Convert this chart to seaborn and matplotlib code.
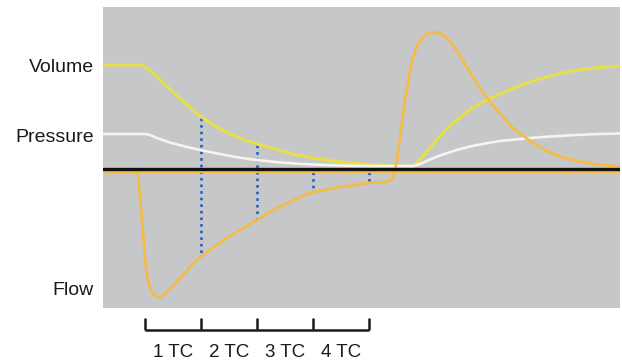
import matplotlib
matplotlib.use('Agg')
import matplotlib.pyplot as plt
import seaborn as sns
import pandas as pd

# time in ms (1 TC = 560 ms), signal in arbitrary units, 0 = baseline
tc_ms = 560

volume_t = [-420, -30, 30, 100, 180, 270, 350, 450, 550, 700, 850, 1000, 1120, 1300, 1500, 1680, 1950,
            2230, 2500, 2680, 2730, 2780, 2850, 2930, 3020, 3100, 3180, 3260, 3350, 3430, 3550, 3700,
            3880, 4050, 4220, 4400, 4550, 4750]
volume_v = [105, 105, 101, 95, 87.5, 79, 71.5, 62.5, 54, 44, 36, 30, 26, 21, 15.5, 12, 8,
            5.5, 4, 3.5, 8, 14, 22, 31.5, 41, 48.5, 55, 61, 66.5, 70.5, 76, 82.5,
            89, 94, 98, 101, 102.5, 104]

pressure_t = [-420, 10, 50, 130, 250, 400, 550, 700, 850, 1000, 1120, 1300, 1500, 1680, 1950, 2230,
              2680, 2750, 2850, 2950, 3100, 3250, 3400, 3550, 3700, 3850, 4050, 4300, 4550, 4750]
pressure_v = [36, 36, 35, 31.5, 27.5, 23.5, 20, 17, 14, 11.5, 10, 8, 6.5, 5.5, 4.5, 4,
              4, 6, 10.5, 14.5, 19.5, 23.5, 26.5, 29, 30.5, 32, 33.5, 35, 36, 36.5]

flow_t = [-420, -80, -70, -60, -50, -35, -20, 0, 20, 40, 70, 100, 130, 160, 200, 270, 350, 450, 550,
          700, 850, 1000, 1120, 1320, 1550, 1680, 1950, 2230, 2400, 2450, 2480, 2500, 2520, 2550,
          2570, 2600, 2630, 2660, 2690, 2730, 2780, 2830, 2900, 2970, 3050, 3120, 3200, 3280, 3350,
          3430, 3550, 3680, 3850, 4020, 4180, 4350, 4520, 4750]
flow_v = [-2, -2, -6, -16, -28, -45, -62, -88, -105, -115, -122, -126, -127.5, -127, -124, -117, -108, -97, -87,
          -76, -66, -57, -50, -38, -27, -22, -17, -13, -12, -11, -8, 0, 10, 32,
          48, 70, 88, 104, 116, 126, 133, 136.5, 138, 136, 129, 119, 106, 93, 82,
          71, 56, 42, 29, 19, 12.5, 8.5, 5.5, 3.5]

# dotted markers at each time constant
tc_marks = [560, 1120, 1680, 2240]
mark_top = [52, 25, -2, -2]
mark_bottom = [-86, -49, -20, -12]

tc_labels = ['1 TC', '2 TC', '3 TC', '4 TC']
trace_names = ['Volume', 'Pressure', 'Flow']
trace_label_y = [98, 28, -125]

sns.set_theme(style='white')
plt.rcParams['font.family'] = ['Liberation Sans', 'DejaVu Sans']

fig = plt.figure(figsize=(6.22, 3.6), dpi=100)
ax = fig.add_axes([103 / 622, 52 / 360, 517 / 622, 301 / 360])
ax.set_facecolor('#c6c7c9')

vol = pd.DataFrame({'t': volume_t, 'v': volume_v})
pres = pd.DataFrame({'t': pressure_t, 'v': pressure_v})
flow = pd.DataFrame({'t': flow_t, 'v': flow_v})

# baselines
ax.axhline(-2, color='#f6bb42', lw=1.6, zorder=2)
ax.axhline(1, color='#111111', lw=2.4, zorder=5)

for x, top, bot in zip(tc_marks, mark_top, mark_bottom):
    ax.plot([x, x], [top, bot], color='#2a5cc4', lw=1.9, ls=(0, (1, 1.5)), zorder=1)

line_kw = dict(sort=False, estimator=None, ax=ax, solid_joinstyle='round', solid_capstyle='round')
sns.lineplot(data=vol, x='t', y='v', color='#e7df4a', linewidth=2.2, zorder=3, **line_kw)
sns.lineplot(data=pres, x='t', y='v', color='#f7f3ef', linewidth=1.9, zorder=4, **line_kw)
sns.lineplot(data=flow, x='t', y='v', color='#f6bb42', linewidth=1.9, zorder=4, **line_kw)

ax.set_xlim(-420, 4750)
ax.set_ylim(-138, 163)
ax.set_xticks([])
ax.set_yticks([])
ax.set_xlabel('')
ax.set_ylabel('')
for s in ax.spines.values():
    s.set_visible(False)

for name, y in zip(trace_names, trace_label_y):
    ax.text(-510, y, name, ha='right', va='baseline', fontsize=14, color='#1a1a1a', clip_on=False)

# time constant bracket under the plot
ticks = [0] + tc_marks
ax.plot([ticks[0], ticks[-1]], [-160, -160], color='#1a1a1a', lw=1.8, clip_on=False, solid_capstyle='butt')
for x in ticks:
    ax.plot([x, x], [-160, -148], color='#1a1a1a', lw=1.8, clip_on=False, solid_capstyle='butt')
for i, lab in enumerate(tc_labels):
    ax.text((ticks[i] + ticks[i + 1]) / 2, -187, lab, ha='center', va='baseline', fontsize=13.5,
            color='#1a1a1a', clip_on=False)

fig.savefig('out.png', dpi=100)
